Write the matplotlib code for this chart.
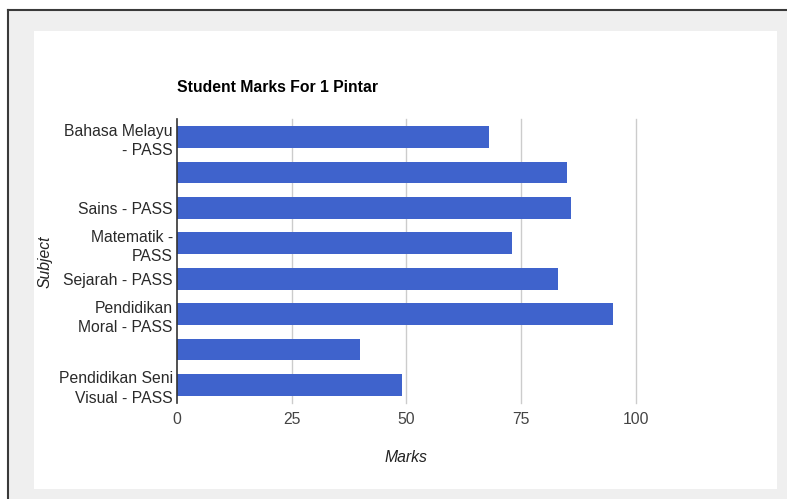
import matplotlib
matplotlib.use("Agg")
import matplotlib.pyplot as plt
from matplotlib.patches import Rectangle
from matplotlib.lines import Line2D

plt.rcParams['font.family'] = ['Liberation Sans', 'DejaVu Sans']

# Data
subjects = ["Bahasa Melayu\n- PASS", "", "Sains - PASS", "Matematik -\nPASS",
            "Sejarah - PASS", "Pendidikan\nMoral - PASS", "", "Pendidikan Seni\nVisual - PASS"]
marks = [68, 85, 86, 73, 83, 95, 40, 49]
x_ticks = [0, 25, 50, 75, 100]
title = "Student Marks For 1 Pintar"
x_label = "Marks"
y_label = "Subject"

W, H = 787, 499
fig = plt.figure(figsize=(W / 100, H / 100), dpi=100)
fig.patch.set_facecolor("white")

def fx(px):
    return px / W

def fy(py):
    return 1 - py / H

# grey background inside outer border
fig.patches.append(Rectangle((fx(8), 0), 1 - fx(8), fy(10), transform=fig.transFigure,
                             facecolor="#efefef", edgecolor="none", zorder=0))
# white panel
fig.patches.append(Rectangle((fx(34), fy(489)), fx(777) - fx(34), fy(31) - fy(489),
                             transform=fig.transFigure, facecolor="white", edgecolor="none", zorder=1))
# dark border lines
fig.lines.append(Line2D([fx(8), 1], [fy(10), fy(10)], transform=fig.transFigure,
                        color="#3a3a3a", lw=1.5, zorder=2))
fig.lines.append(Line2D([fx(8), fx(8)], [0, fy(10)], transform=fig.transFigure,
                        color="#3a3a3a", lw=1.5, zorder=2))

ax = fig.add_axes([fx(177), fy(402.7), fx(635.7) - fx(177), fy(119.3) - fy(402.7)])
ax.set_facecolor("none")
ax.set_zorder(3)

FS = 11.3

ypos = list(range(len(marks)))
ax.barh(ypos, marks, height=0.61, color="#3f63cc", zorder=3)
ax.set_ylim(len(marks) - 0.5, -0.5)
ax.set_xlim(0, 100)

ax.set_xticks(x_ticks)
ax.set_xticklabels([str(t) for t in x_ticks], color="#444444", fontsize=FS)
ax.set_yticks(ypos)
ax.set_yticklabels(subjects, color="#2a2a2a", fontsize=FS, linespacing=1.35)
ax.tick_params(axis='both', length=0)
ax.tick_params(axis='x', pad=7)
ax.tick_params(axis='y', pad=3)

for t in x_ticks[1:]:
    ax.axvline(t, color="#cccccc", lw=1, zorder=1, clip_on=False)

for s in ["top", "right", "bottom"]:
    ax.spines[s].set_visible(False)
ax.spines["left"].set_color("#333333")
ax.spines["left"].set_linewidth(1.2)
ax.spines["left"].set_zorder(4)

fig.text(fx(177), fy(88), title, fontsize=FS, fontweight="bold", color="#000000",
         ha="left", va="center")
fig.text(fx(406), fy(458), x_label, fontsize=FS, style="italic", color="#222222",
         ha="center", va="center")
fig.text(fx(45), fy(262), y_label, fontsize=FS, style="italic", color="#222222",
         ha="center", va="center", rotation=90)

fig.savefig("out.png", dpi=100)
